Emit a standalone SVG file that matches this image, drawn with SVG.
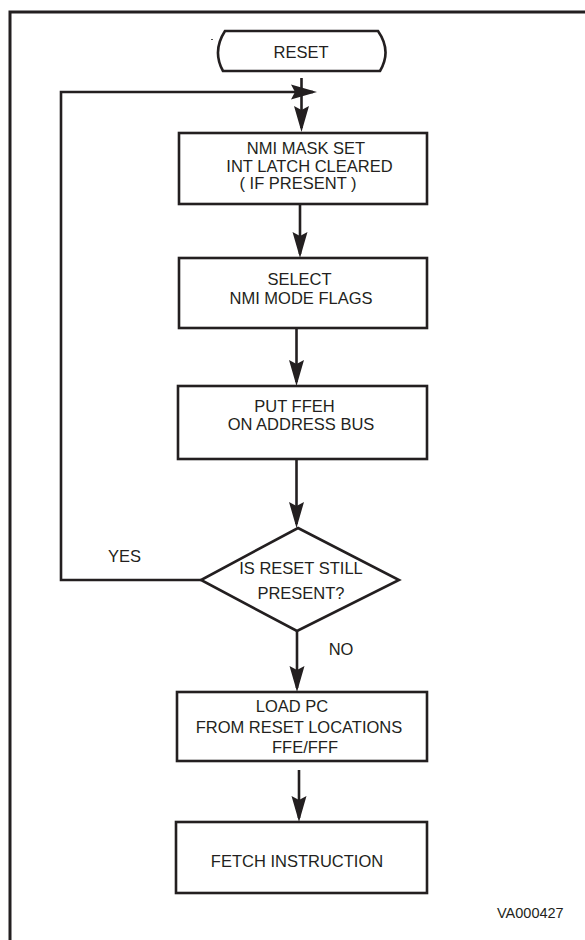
<svg xmlns="http://www.w3.org/2000/svg" width="585" height="940" viewBox="0 0 585 940">
<style>
.box{fill:#fff;stroke:#231f20;stroke-width:2.6}
.ln{fill:none;stroke:#231f20;stroke-width:2.6}
.t{font-family:"Liberation Sans",Arial,sans-serif;font-size:16.5px;fill:#231f20;text-anchor:middle}
.s{font-family:"Liberation Sans",Arial,sans-serif;font-size:14.5px;fill:#231f20}
</style>
<defs>
<marker id="ah" viewBox="-27 -8 28 16" refX="-4" refY="0" markerWidth="28" markerHeight="16" markerUnits="userSpaceOnUse" orient="auto">
<path d="M0,0 L-26,-7.5 L-22,0 L-26,7.5 Z" fill="#231f20"/>
</marker>
</defs>
<rect width="585" height="940" fill="#fff"/>
<path d="M10,940 V12 H585" fill="none" stroke="#231f20" stroke-width="3"/>
<line x1="211" y1="39.5" x2="213" y2="39.5" stroke="#555" stroke-width="1"/>
<g id="connectors">
<path class="ln" d="M301.5,78 V128" marker-end="url(#ah)"/>
<path class="ln" d="M201,580 H61 V92 H313" marker-end="url(#ah)"/>
<path class="ln" d="M300,204 V254" marker-end="url(#ah)"/>
<path class="ln" d="M296.5,329 V382" marker-end="url(#ah)"/>
<path class="ln" d="M296.5,459 V524" marker-end="url(#ah)"/>
<path class="ln" d="M297,631 V688" marker-end="url(#ah)"/>
<path class="ln" d="M299,770 V818" marker-end="url(#ah)"/>
</g>
<g id="reset">
<path class="box" d="M225,31 H378 Q392,51 380,71 H223 Q212,51 225,31 Z"/>
<text class="t" x="301" y="57.5">RESET</text>
</g>
<g id="nmi-mask">
<rect class="box" x="179" y="133" width="248" height="71"/>
<text class="t" x="306" y="154">NMI MASK SET</text>
<text class="t" x="309.5" y="171.5">INT LATCH CLEARED</text>
<text class="t" x="298" y="188.5">( IF PRESENT )</text>
</g>
<g id="select-flags">
<rect class="box" x="179" y="258" width="248" height="70"/>
<text class="t" x="299.5" y="285">SELECT</text>
<text class="t" x="301" y="304">NMI MODE FLAGS</text>
</g>
<g id="put-ffeh">
<rect class="box" x="178" y="386" width="249" height="73"/>
<text class="t" x="294.5" y="411.5">PUT FFEH</text>
<text class="t" x="301" y="430">ON ADDRESS BUS</text>
</g>
<g id="decision">
<polygon class="box" points="298,528 399,580 297,631 201,580"/>
<text class="t" x="301" y="574">IS RESET STILL</text>
<text class="t" x="301" y="599">PRESENT?</text>
</g>
<g id="labels">
<text class="t" x="124.5" y="562">YES</text>
<text class="t" x="341" y="655">NO</text>
</g>
<g id="load-pc">
<rect class="box" x="177" y="692" width="250" height="69"/>
<text class="t" x="292" y="711.5">LOAD PC</text>
<text class="t" x="299" y="733">FROM RESET LOCATIONS</text>
<text class="t" x="305" y="753">FFE/FFF</text>
</g>
<g id="fetch">
<rect class="box" x="176" y="822" width="251" height="71"/>
<text class="t" x="297" y="866.5">FETCH INSTRUCTION</text>
</g>
<text class="s" x="497" y="917.5">VA000427</text>
</svg>
